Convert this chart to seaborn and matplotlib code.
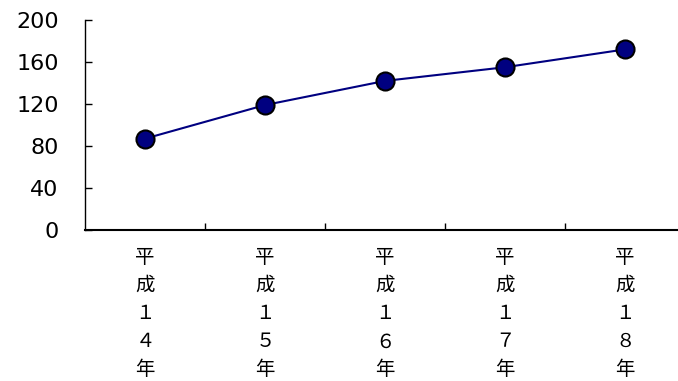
import numpy as np
import pandas as pd
import matplotlib.pyplot as plt
import seaborn as sns

sns.set_style('white')
plt.rcParams['font.family'] = ['Noto Sans CJK JP', 'DejaVu Sans']

# data
years = ['平成１４年', '平成１５年', '平成１６年', '平成１７年', '平成１８年']
values = [87, 119, 142, 155, 172]
y_ticks = [0, 40, 80, 120, 160, 200]

df = pd.DataFrame({'pos': np.arange(len(years)), 'value': values})

fig = plt.figure(figsize=(6.78, 3.81), dpi=100)
ax = fig.add_axes([85 / 678, 1 - 230 / 381, 600 / 678, 210 / 381])

sns.lineplot(data=df, x='pos', y='value', ax=ax, color='#000080', linewidth=1.5,
             marker='o', markersize=13, markerfacecolor='#000080',
             markeredgecolor='black', markeredgewidth=1.5, clip_on=False)

ax.set_xlim(-0.5, len(years) - 0.5)
ax.set_ylim(0, 200)
ax.set_yticks(y_ticks)
ax.set_yticklabels([str(t) for t in y_ticks], fontsize=16, color='black',
                   family='DejaVu Sans')

# category labels stacked vertically, ticks between categories
ax.set_xticks(np.arange(len(years)))
ax.set_xticklabels(['\n'.join(y) for y in years], fontsize=14, linespacing=1.45,
                   color='black', va='top')
ax.set_xticks(np.arange(len(years) - 1) + 0.5, minor=True)
ax.tick_params(axis='x', which='major', bottom=False, length=0, pad=12)
ax.tick_params(axis='x', which='minor', bottom=True, direction='in', length=5,
               width=1, color='black')
ax.tick_params(axis='y', left=True, direction='in', length=5, width=1,
               color='black', pad=19)

for side in ['top', 'right']:
    ax.spines[side].set_visible(False)
ax.spines['left'].set_color('black')
ax.spines['bottom'].set_color('black')
ax.spines['left'].set_linewidth(1)
ax.spines['bottom'].set_linewidth(1.5)

ax.set_xlabel('')
ax.set_ylabel('')
ax.grid(False)

fig.savefig('out.png', dpi=100)
